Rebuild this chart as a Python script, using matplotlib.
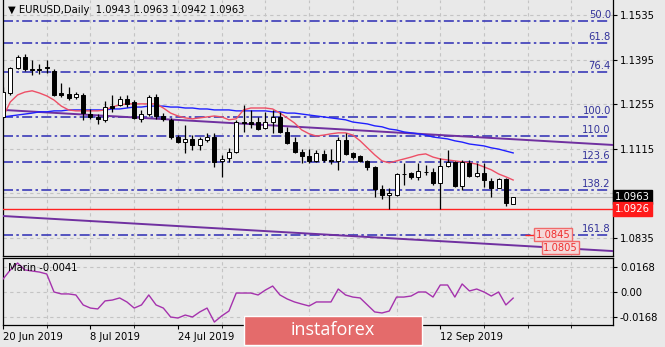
"""EURUSD daily candles with moving averages, Fibonacci levels and the Marin oscillator."""

import matplotlib
matplotlib.use("Agg")
import matplotlib.pyplot as plt
from matplotlib.patches import Rectangle
import pandas as pd

# ---- data -------------------------------------------------------------------
dates = pd.bdate_range("2019-06-20", periods=71)

opens = [1.1215, 1.1290, 1.1369, 1.1403, 1.1366, 1.1366, 1.1371, 1.1359, 1.1290, 1.1287,
         1.1278, 1.1284, 1.1224, 1.1215, 1.1206, 1.1249, 1.1253, 1.1271, 1.1262, 1.1209,
         1.1224, 1.1278, 1.1218, 1.1206, 1.1152, 1.1136, 1.1146, 1.1127, 1.1143, 1.1152,
         1.1077, 1.1086, 1.1105, 1.1199, 1.1199, 1.1199, 1.1180, 1.1199, 1.1215, 1.1168,
         1.1136, 1.1105, 1.1092, 1.1077, 1.1099, 1.1080, 1.1077, 1.1143, 1.1102, 1.1092,
         1.1077, 1.1058, 1.0989, 1.0970, 1.0970, 1.1036, 1.1039, 1.1027, 1.1042, 1.1042,
         1.1008, 1.1061, 1.1074, 1.0998, 1.1071, 1.1030, 1.1039, 1.1014, 1.0992, 1.1020,
         1.0943]
highs = [1.1309, 1.1372, 1.1410, 1.1413, 1.1394, 1.1381, 1.1394, 1.1366, 1.1322, 1.1309,
         1.1293, 1.1290, 1.1240, 1.1224, 1.1265, 1.1284, 1.1281, 1.1284, 1.1268, 1.1237,
         1.1284, 1.1287, 1.1227, 1.1212, 1.1158, 1.1190, 1.1158, 1.1152, 1.1165, 1.1165,
         1.1096, 1.1118, 1.1206, 1.1253, 1.1237, 1.1215, 1.1231, 1.1237, 1.1231, 1.1183,
         1.1152, 1.1114, 1.1114, 1.1111, 1.1111, 1.1114, 1.1152, 1.1165, 1.1105, 1.1096,
         1.1080, 1.1061, 1.1001, 1.0992, 1.1039, 1.1071, 1.1042, 1.1071, 1.1064, 1.1055,
         1.1087, 1.1111, 1.1077, 1.1080, 1.1080, 1.1071, 1.1071, 1.1023, 1.1023, 1.1023,
         1.0963]
lows = [1.1212, 1.1284, 1.1366, 1.1359, 1.1347, 1.1350, 1.1353, 1.1281, 1.1278, 1.1268,
        1.1271, 1.1206, 1.1209, 1.1193, 1.1199, 1.1231, 1.1249, 1.1246, 1.1209, 1.1199,
        1.1218, 1.1209, 1.1202, 1.1146, 1.1133, 1.1102, 1.1111, 1.1111, 1.1136, 1.1058,
        1.1027, 1.1074, 1.1102, 1.1168, 1.1180, 1.1174, 1.1177, 1.1165, 1.1165, 1.1130,
        1.1102, 1.1071, 1.1071, 1.1074, 1.1074, 1.1067, 1.1049, 1.1096, 1.1083, 1.1074,
        1.1049, 1.0964, 1.0957, 1.0926, 1.0967, 1.1001, 1.1020, 1.1017, 1.1033, 1.1001,
        1.0926, 1.1058, 1.0995, 1.0986, 1.1027, 1.1027, 1.0995, 1.0964, 1.0992, 1.0935,
        1.0942]
closes = [1.1293, 1.1369, 1.1403, 1.1366, 1.1363, 1.1363, 1.1369, 1.1284, 1.1284, 1.1275,
          1.1287, 1.1227, 1.1215, 1.1209, 1.1246, 1.1243, 1.1271, 1.1256, 1.1212, 1.1224,
          1.1278, 1.1218, 1.1209, 1.1152, 1.1136, 1.1146, 1.1127, 1.1146, 1.1152, 1.1074,
          1.1083, 1.1105, 1.1199, 1.1196, 1.1193, 1.1177, 1.1199, 1.1215, 1.1168, 1.1133,
          1.1105, 1.1092, 1.1077, 1.1102, 1.1080, 1.1077, 1.1143, 1.1099, 1.1089, 1.1077,
          1.1058, 1.0989, 1.0970, 1.0976, 1.1036, 1.1035, 1.1027, 1.1045, 1.1041, 1.1008,
          1.1061, 1.1074, 1.0998, 1.1074, 1.1030, 1.1039, 1.1017, 1.0992, 1.1020, 1.0945,
          1.0963]

ma_fast = [1.1215, 1.1262, 1.1284, 1.1293, 1.1297, 1.1290, 1.1281, 1.1268, 1.1249, 1.1237,
           1.1234, 1.1234, 1.1234, 1.1234, 1.1237, 1.1246, 1.1253, 1.1256, 1.1256, 1.1256,
           1.1256, 1.1256, 1.1243, 1.1227, 1.1218, 1.1212, 1.1209, 1.1212, 1.1215, 1.1218,
           1.1215, 1.1206, 1.1209, 1.1237, 1.1243, 1.1243, 1.1243, 1.1240, 1.1227, 1.1212,
           1.1196, 1.1174, 1.1162, 1.1155, 1.1158, 1.1162, 1.1165, 1.1165, 1.1158, 1.1140,
           1.1118, 1.1096, 1.1077, 1.1071, 1.1077, 1.1083, 1.1089, 1.1096, 1.1099, 1.1089,
           1.1083, 1.1080, 1.1077, 1.1074, 1.1071, 1.1067, 1.1058, 1.1049, 1.1036, 1.1027,
           1.1017]
ma_slow = [1.1215, 1.1218, 1.1221, 1.1224, 1.1227, 1.1231, 1.1231, 1.1234, 1.1234, 1.1237,
           1.1237, 1.1237, 1.1237, 1.1237, 1.1237, 1.1240, 1.1240, 1.1243, 1.1246, 1.1246,
           1.1249, 1.1249, 1.1249, 1.1246, 1.1246, 1.1243, 1.1243, 1.1240, 1.1240, 1.1237,
           1.1237, 1.1237, 1.1234, 1.1234, 1.1234, 1.1234, 1.1234, 1.1231, 1.1231, 1.1227,
           1.1227, 1.1224, 1.1221, 1.1218, 1.1215, 1.1212, 1.1209, 1.1206, 1.1199, 1.1196,
           1.1193, 1.1187, 1.1184, 1.1177, 1.1174, 1.1168, 1.1165, 1.1162, 1.1158, 1.1152,
           1.1149, 1.1146, 1.1140, 1.1136, 1.1130, 1.1127, 1.1124, 1.1118, 1.1114, 1.1108,
           1.1102]

marin = [0.0087, 0.0148, 0.0195, 0.0148, 0.0141, 0.0134, 0.0121, 0.0000, -0.0013, -0.0013,
         -0.0020, -0.0087, -0.0108, -0.0114, -0.0060, -0.0054, -0.0040, -0.0067, -0.0108, -0.0087,
         -0.0020, -0.0087, -0.0108, -0.0168, -0.0175, -0.0155, -0.0168, -0.0134, -0.0108, -0.0202,
         -0.0161, -0.0128, -0.0007, -0.0007, -0.0007, -0.0020, 0.0013, 0.0040, -0.0020, -0.0047,
         -0.0067, -0.0081, -0.0094, -0.0067, -0.0067, -0.0067, 0.0020, -0.0020, -0.0034, -0.0040,
         -0.0087, -0.0134, -0.0141, -0.0128, -0.0034, -0.0034, -0.0027, 0.0000, 0.0000, -0.0034,
         0.0047, 0.0047, -0.0034, 0.0054, 0.0007, 0.0020, 0.0000, -0.0027, 0.0000, -0.0087,
         -0.0041]

fib_labels = ["50.0", "61.8", "76.4", "100.0", "110.0", "123.6", "138.2", "161.8"]
fib_prices = [1.1516, 1.1447, 1.1356, 1.1215, 1.1155, 1.1073, 1.0986, 1.0844]

# channel lines: (bar, price) anchor pairs
channel_upper = [(0, 1.1237), (70, 1.1145)]
channel_lower = [(0, 1.0904), (70, 1.0812)]

support_level = 1.0926
targets = [(75.5, 1.0845), (76.5, 1.0805)]

price_ticks = [1.0835, 1.0975, 1.1115, 1.1255, 1.1395, 1.1535]
marin_ticks = [-0.0168, 0.0, 0.0168]
date_ticks = [0, 12, 24, 36, 48, 60]
labelled_bars = [0, 12, 24, 60]   # the two middle dates sit under the logo

# ---- layout -----------------------------------------------------------------
W, H = 665, 347
BG = "#e9e9e9"
GRID = "#c4c4c4"
FONT = 7.2

fig = plt.figure(figsize=(W / 100, H / 100), dpi=100, facecolor=BG)


def px_axes(x0, y0, x1, y1):
    return fig.add_axes([x0 / W, 1 - y1 / H, (x1 - x0) / W, (y1 - y0) / H])


ax = px_axes(2.5, 0, 613, 256)
ax2 = px_axes(2.5, 258, 613, 325)

x_left = -0.07
x_right = 83.7
bars = list(range(len(opens)))

for a in (ax, ax2):
    a.set_facecolor(BG)
    a.set_xlim(x_left, x_right)
    a.set_xticks(range(6, 84, 6), minor=True)
    a.grid(which="minor", axis="x", color=GRID, ls=(0, (3, 3)), lw=0.8)
    a.yaxis.tick_right()
    for s in a.spines.values():
        s.set_color("black")
        s.set_linewidth(0.9)
ax.spines["top"].set_visible(False)

# ---- main price panel -------------------------------------------------------
ax.set_ylim(1.07785, 1.1582)
ax.set_yticks(price_ticks)
ax.set_yticklabels([f"{p:.4f}" if p != 1.0975 else "" for p in price_ticks])
ax.tick_params(axis="y", direction="out", length=3, labelsize=FONT, pad=2)
ax.tick_params(axis="x", which="both", length=0, labelbottom=False)
ax.set_xticks([])
ax.grid(axis="y", color=GRID, ls=(0, (3, 3)), lw=0.8)

# fibonacci levels
for lab, p in zip(fib_labels, fib_prices):
    ax.hlines(p, x_left, 83.3, colors="#3a3ab8", lw=1.2, ls=(0, (6, 2, 1.5, 2)), zorder=2)
    ax.text(83.4, p + 0.0004, lab, ha="right", va="bottom", fontsize=FONT,
            color="#33339a", zorder=6)

# channel and moving averages
for pts in (channel_upper, channel_lower):
    ax.axline(pts[0], pts[1], color="#7030a0", lw=1.4, zorder=3)
ax.plot(bars, ma_slow, color="#2020ff", lw=1.0, zorder=3)
ax.plot(bars, ma_fast, color="#ee4f66", lw=1.0, zorder=3)

# price lines
ax.axhline(closes[-1], color="#b8b8b8", lw=0.8, zorder=1)
ax.axhline(support_level, color="#ff2222", lw=1.0, zorder=3)
ax.hlines(targets[0][1], 71.6, 73.2, colors="#ff2222", lw=1.0, zorder=3)

# candles
body_w = 0.55
for i, (o, h, l, c) in enumerate(zip(opens, highs, lows, closes)):
    ax.vlines(i, l, h, colors="black", lw=0.9, zorder=4)
    up = c >= o
    ax.bar(i, max(abs(c - o), 0.00005), bottom=min(o, c), width=body_w,
           color="white" if up else "black", edgecolor="black", lw=0.7, zorder=5)

# target labels
for bx, p in targets:
    ax.text(bx, p, f"{p:.4f}", ha="center", va="center", fontsize=FONT, color="#f03030",
            zorder=7, bbox=dict(boxstyle="square,pad=0.15", fc="#f5d8d8", ec="#f06a6a", lw=1))

# right-hand price boxes
ax.text(1.003, closes[-1], f"{closes[-1]:.4f}", transform=ax.get_yaxis_transform(),
        ha="left", va="center", fontsize=FONT, color="white", zorder=8, clip_on=False,
        bbox=dict(boxstyle="square,pad=0.2", fc="black", ec="black"))
ax.text(1.003, support_level, f"{support_level:.4f}", transform=ax.get_yaxis_transform(),
        ha="left", va="center", fontsize=FONT, color="white", zorder=8, clip_on=False,
        bbox=dict(boxstyle="square,pad=0.2", fc="#ff1a1a", ec="#ff1a1a"))

# header
header = (f"\u25bc EURUSD,Daily  {opens[-1]:.4f} {highs[-1]:.4f} "
          f"{lows[-1]:.4f} {closes[-1]:.4f}")
ax.text(5 / 610.5, 1 - 10 / 256, header, transform=ax.transAxes, ha="left", va="center",
        fontsize=FONT, color="black", zorder=8)

# ---- oscillator panel -------------------------------------------------------
ax2.set_ylim(-0.02218, 0.02285)
ax2.plot(bars, marin, color="#a532ad", lw=1.0, zorder=3)
ax2.set_yticks(marin_ticks)
ax2.set_yticklabels(["-0.0168", "0.00", "0.0168"])
ax2.tick_params(axis="y", direction="out", length=3, labelsize=FONT, pad=2)
ax2.grid(axis="y", which="major", color=GRID, ls=(0, (3, 3)), lw=0.8)
ax2.set_xticks(date_ticks)
ax2.set_xticklabels([f"{dates[b].day} {dates[b]:%b %Y}" if b in labelled_bars else ""
                     for b in date_ticks], ha="left", fontsize=FONT)
ax2.tick_params(axis="x", direction="out", length=3, pad=2)
ax2.text(5 / 610.5, 1 - 10 / 67, f"Marin {marin[-1]:.4f}", transform=ax2.transAxes,
         ha="left", va="center", fontsize=FONT, color="black")

# ---- logo -------------------------------------------------------------------
fig.add_artist(Rectangle((244 / W, 1 - 345 / H), 178 / W, 29 / H, transform=fig.transFigure,
                         fc="#e46b6b", ec="white", lw=1, zorder=20))
fig.text(333 / W, 1 - 330 / H, "instaforex", ha="center", va="center", color="white",
         fontsize=13, family="Open Sans", zorder=21)

fig.savefig("out.png", dpi=100, facecolor=BG)
